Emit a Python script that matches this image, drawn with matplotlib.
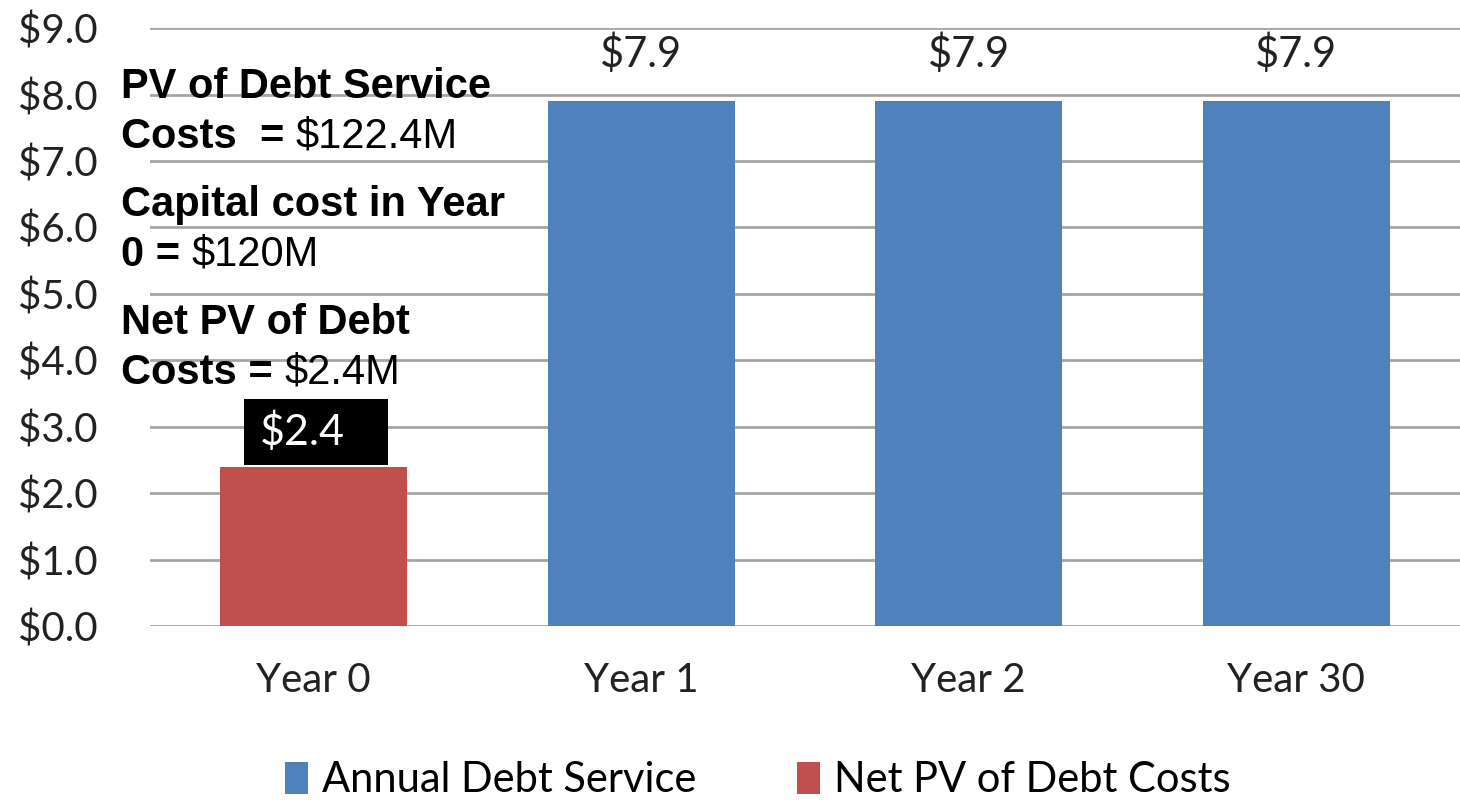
import matplotlib.pyplot as plt
from matplotlib.patches import Patch, Rectangle

# Debt service by year ($M)
years = ["Year 0", "Year 1", "Year 2", "Year 30"]
net_pv = [2.4, None, None, None]
annual_service = [None, 7.9, 7.9, 7.9]
y_ticks = [0, 1, 2, 3, 4, 5, 6, 7, 8, 9]

notes = [
    ("PV of Debt Service", ""),
    ("Costs  = ", "$122.4M"),
    ("Capital cost in Year", ""),
    ("0 = ", "$120M"),
    ("Net PV of Debt", ""),
    ("Costs = ", "$2.4M"),
]

blue = "#4F81BD"
red = "#C0504D"
label_font = "Lato"
note_font = "Liberation Sans"
ink = "#222222"

fig = plt.figure(figsize=(14.6, 8.02), dpi=100)
ax = fig.add_axes([0.1027, 0.2195, 0.8973, 0.7455])

x = list(range(len(years)))
width = 0.57

for i, v in enumerate(annual_service):
    if v is not None:
        ax.bar(i, v, width=width, color=blue, zorder=3)
        ax.text(i, v + 0.72, f"${v:.1f}", ha="center", va="center",
                fontsize=30, family=label_font, color=ink)

for i, v in enumerate(net_pv):
    if v is not None:
        ax.bar(i, v, width=width, color=red, zorder=3)
        # black label box sitting on top of the bar
        box = Rectangle((i - 0.213, v + 0.03), 0.44, 0.98, facecolor="black",
                        edgecolor="none", zorder=4)
        ax.add_patch(box)
        ax.text(i - 0.165, v + 0.03 + 0.49, f"${v:.1f}", ha="left", va="center",
                fontsize=31, family=label_font, color="white", zorder=5)

ax.set_xlim(-0.5, 3.5)
ax.set_ylim(0, 9)
ax.set_yticks(y_ticks)
ax.set_yticklabels([f"${t:.1f}" for t in y_ticks], fontsize=29,
                   family=label_font, color=ink)
ax.set_xticks(x)
ax.set_xticklabels(years, fontsize=29, family=label_font, color=ink)
ax.tick_params(axis="both", length=0)
ax.tick_params(axis="x", pad=26)
ax.tick_params(axis="y", pad=38)
ax.grid(axis="y", color="#a6a6a6", linewidth=2, zorder=0)
for s in ax.spines.values():
    s.set_visible(False)

# explanatory notes in the upper left corner
baselines = [98, 148, 216, 266, 334, 384]
for (bold, plain), yb in zip(notes, baselines):
    yf = 1 - yb / 802
    t = fig.text(121 / 1460, yf, bold, fontsize=30, fontweight="bold",
                 family=note_font, va="baseline", ha="left")
    if plain:
        fig.canvas.draw()
        bb = t.get_window_extent()
        fig.text(bb.x1 / 1460, yf, plain, fontsize=30, family=note_font,
                 va="baseline", ha="left")

handles = [Patch(facecolor=blue, label="Annual Debt Service"),
           Patch(facecolor=red, label="Net PV of Debt Costs")]
fig.legend(handles=handles, loc="center", bbox_to_anchor=(0.519, 0.027),
           ncol=2, frameon=False, prop={"family": label_font, "size": 30},
           handlelength=0.55, handleheight=0.8, handletextpad=0.35,
           columnspacing=2.4)

fig.savefig("out.png", dpi=100)
